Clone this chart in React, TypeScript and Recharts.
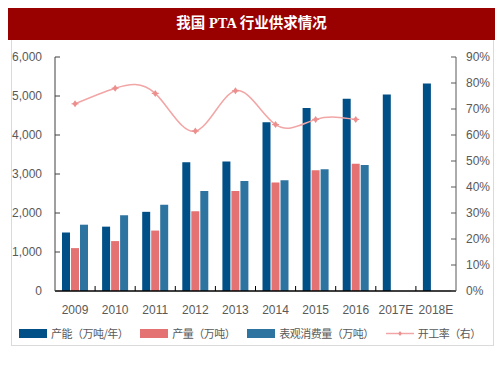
import React from "react";
import {
  ComposedChart,
  Bar,
  Line,
  XAxis,
  YAxis,
  Legend
} from "recharts";

// 我国 PTA 行业供求情况
const years = ["2009", "2010", "2011", "2012", "2013", "2014", "2015", "2016", "2017E", "2018E"];
const capacity = [1500, 1650, 2030, 3300, 3320, 4330, 4690, 4930, 5040, 5320];
const output = [1100, 1280, 1550, 2045, 2565, 2780, 3095, 3265, null, null];
const consumption = [1700, 1940, 2210, 2565, 2820, 2840, 3120, 3230, null, null];
const rate = [72, 78, 76, 61.5, 77, 64, 66, 66, null, null];

const seriesNames = ["产能（万吨/年）", "产量（万吨）", "表观消费量（万吨）", "开工率（右）"];

const leftTicks = [0, 1000, 2000, 3000, 4000, 5000, 6000];
const rightTicks = [0, 10, 20, 30, 40, 50, 60, 70, 80, 90];

const data = years.map((year, i) => ({
  year,
  capacity: capacity[i],
  output: output[i],
  consumption: consumption[i],
  rate: rate[i]
}));

const C_CAP = "#004F86";
const C_OUT = "#E57272";
const C_CON = "#2E74A1";
const C_RATE = "#F2A5A5";
const C_DOT = "#EC8F8F";

const TEXT = "#595959";
const SANS = "'Liberation Sans', Arial, sans-serif";
const CJK = "'Noto Sans CJK SC', sans-serif";

const PLOT_W = 401;
const HALF_BAND = PLOT_W / years.length / 2;

const XTick = (props: any) => {
  const { x, y, payload, index } = props;
  const bx = x + HALF_BAND;
  return (
    <g>
      {index < years.length - 1 && (
        <line x1={bx} x2={bx} y1={y - 14} y2={y - 19} stroke="#000" strokeWidth={1} />
      )}
      <text x={x} y={y} dy="0.71em" textAnchor="middle" fill={TEXT} fontSize={12} fontFamily={SANS}>
        {payload.value}
      </text>
    </g>
  );
};

const RateDot = (props: any) => {
  const { cx, cy, value } = props;
  if (value == null || cx == null || cy == null) return null;
  return (
    <g>
      <path d={`M${cx},${cy - 3.5} L${cx + 2.5},${cy} L${cx},${cy + 3.5} L${cx - 2.5},${cy} Z`} fill={C_DOT} />
      <line x1={cx - 3.5} x2={cx + 3.5} y1={cy} y2={cy} stroke={C_DOT} strokeWidth={1.2} />
    </g>
  );
};

const LegendContent = (props: any) => {
  const items = [...(props.payload || [])].sort(
    (a: any, b: any) => seriesNames.indexOf(a.value) - seriesNames.indexOf(b.value)
  );
  return (
    <div
      style={{
        display: "flex",
        alignItems: "center",
        whiteSpace: "nowrap",
        fontFamily: CJK,
        fontSize: 11,
        letterSpacing: -0.5,
        color: TEXT
      }}
    >
      {items.map((item: any, i: number) => (
        <div key={i} style={{ display: "flex", alignItems: "center", marginRight: 12 }}>
          {item.type === "line" ? (
            <svg width={28} height={9} style={{ marginRight: 4 }}>
              <line x1={0} x2={28} y1={4.5} y2={4.5} stroke={C_RATE} strokeWidth={1.5} />
              <path d="M14,2 L15.8,4.5 L14,7 L12.2,4.5 Z" fill={C_DOT} />
            </svg>
          ) : (
            <svg width={28} height={9} style={{ marginRight: 4 }}>
              <rect x={0} y={0} width={28} height={9} fill={item.color} />
            </svg>
          )}
          <span>{item.value}</span>
        </div>
      ))}
    </div>
  );
};

const App: React.FC = () => {
  return (
    <div style={{ position: "relative", width: 503, height: 378, margin: -8, background: "#fff" }}>
      <div
        style={{
          position: "absolute",
          left: 4,
          top: 2,
          width: 495,
          height: 38,
          background: "#990000",
          color: "#fff",
          display: "flex",
          alignItems: "center",
          justifyContent: "center",
          fontFamily: "'Liberation Serif', 'Noto Sans CJK SC', serif",
          fontWeight: "bold",
          fontSize: 14.5
        }}
      >
        我国 PTA 行业供求情况
      </div>
      <div
        style={{
          position: "absolute",
          left: 11,
          top: 40,
          width: 481,
          height: 305,
          borderLeft: "1px solid #DADADA",
          borderRight: "1px solid #DADADA",
          borderBottom: "1px solid #DADADA"
        }}
      />
      <div style={{ position: "absolute", left: 0, top: 0 }}>
        <ComposedChart
          width={503}
          height={378}
          data={data}
          margin={{ top: 57, right: 0, left: 10, bottom: 57 }}
          barSize={8}
          barGap={1}
        >
          <XAxis
            dataKey="year"
            height={30}
            axisLine={{ stroke: "#000", strokeWidth: 1.3 }}
            tickLine={false}
            tickSize={0}
            tickMargin={14}
            tick={<XTick />}
            interval={0}
          />
          <YAxis
            yAxisId="left"
            width={45}
            domain={[0, 6000]}
            ticks={leftTicks}
            interval={0}
            axisLine={{ stroke: "#404040" }}
            tickLine={{ stroke: "#404040" }}
            tickSize={-5}
            tickMargin={18}
            tick={{ fill: TEXT, fontSize: 12, fontFamily: SANS }}
            tickFormatter={(v: number) => v.toLocaleString("en-US")}
          />
          <YAxis
            yAxisId="right"
            orientation="right"
            width={47}
            domain={[0, 90]}
            ticks={rightTicks}
            interval={0}
            axisLine={{ stroke: "#595959" }}
            tickLine={{ stroke: "#595959" }}
            tickSize={-5}
            tickMargin={15}
            tick={{ fill: TEXT, fontSize: 12, fontFamily: SANS }}
            tickFormatter={(v: number) => `${v}%`}
          />
          <Legend
            verticalAlign="middle"
            layout="horizontal"
            wrapperStyle={{ top: 325, left: 19, width: 484 }}
            content={<LegendContent />}
          />
          <Bar yAxisId="left" dataKey="capacity" name={seriesNames[0]} fill={C_CAP} isAnimationActive={false} />
          <Bar yAxisId="left" dataKey="output" name={seriesNames[1]} fill={C_OUT} isAnimationActive={false} />
          <Bar yAxisId="left" dataKey="consumption" name={seriesNames[2]} fill={C_CON} isAnimationActive={false} />
          <Line
            yAxisId="right"
            type="natural"
            dataKey="rate"
            name={seriesNames[3]}
            stroke={C_RATE}
            strokeWidth={1.5}
            dot={<RateDot />}
            activeDot={false}
            legendType="line"
            isAnimationActive={false}
          />
        </ComposedChart>
      </div>
    </div>
  );
};

export default App;
